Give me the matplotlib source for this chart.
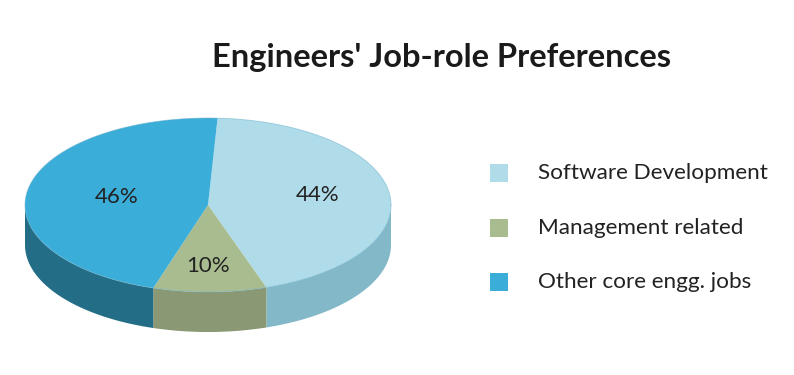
import numpy as np
from matplotlib import pyplot as plt
from matplotlib.patches import Polygon, Rectangle

plt.rcParams['font.family'] = ['Lato', 'DejaVu Sans']

labels = ['Software Development', 'Management related', 'Other core engg. jobs']
values = [44, 10, 46]
top_colors = ['#b0dcea', '#a9bc8f', '#3badd9']
side_colors = ['#83b8c9', '#8a9874', '#246d87']
title = "Engineers' Job-role Preferences"

# pie geometry in pixel coordinates
cx, cy = 208, 205
rx, ry = 183, 87
depth = 40
start = 87.0
label_pos = [(0.605, 0.03), (0.0, -0.7), (0.505, 0.0)]  # (radial frac, y shift frac)

fig = plt.figure(figsize=(7.94, 3.75), dpi=100)
ax = fig.add_axes([0, 0, 1, 1])
ax.set_xlim(0, 794)
ax.set_ylim(375, 0)
ax.axis('off')

fracs = np.array(values) / np.sum(values)
bounds = start - 360 * np.concatenate([[0], np.cumsum(fracs)])

def pt(a, dz=0):
    r = np.radians(a)
    return cx + rx * np.cos(r), cy - ry * np.sin(r) + dz

# side walls, front half only
for i in range(len(values)):
    lo, hi = sorted((bounds[i], bounds[i + 1]))
    for shift in (-360, 0, 360):
        s0, s1 = max(lo + shift, 180), min(hi + shift, 360)
        if s1 > s0:
            ang = np.linspace(s0, s1, 80)
            topx, topy = pt(ang)
            botx, boty = pt(ang, depth)
            xs = np.concatenate([topx, botx[::-1]])
            ys = np.concatenate([topy, boty[::-1]])
            ax.add_patch(Polygon(np.column_stack([xs, ys]), closed=True,
                                 facecolor=side_colors[i], edgecolor='none'))

# top faces
for i in range(len(values)):
    ang = np.linspace(bounds[i], bounds[i + 1], 120)
    x, y = pt(ang)
    xs = np.concatenate([[cx], x])
    ys = np.concatenate([[cy], y])
    ax.add_patch(Polygon(np.column_stack([xs, ys]), closed=True,
                         facecolor=top_colors[i], edgecolor='none'))
    mid = np.radians((bounds[i] + bounds[i + 1]) / 2)
    rr, dy = label_pos[i]
    lx = cx + rr * rx * np.cos(mid)
    ly = cy - rr * ry * np.sin(mid) - dy * ry
    ax.text(lx, ly, f'{values[i]}%', ha='center', va='center',
            fontsize=16, color='#222222')

# outline of the top ellipse edge
ang = np.linspace(0, 360, 400)
ex, ey = pt(ang)
ax.plot(ex, ey, color='#6fb3cc', lw=0.6, alpha=0.6)

# legend
for i, lab in enumerate(labels):
    yy = 173 + 54.5 * i
    ax.add_patch(Rectangle((490, yy - 9), 18, 18, facecolor=top_colors[i],
                           edgecolor='none'))
    ax.text(538, yy, lab, ha='left', va='center', fontsize=16.2,
            color='#222222')

ax.text(441, 57, title, ha='center', va='center', fontsize=23.5,
        fontweight='bold', color='#1a1a1a')

fig.savefig('out.png', dpi=100)
